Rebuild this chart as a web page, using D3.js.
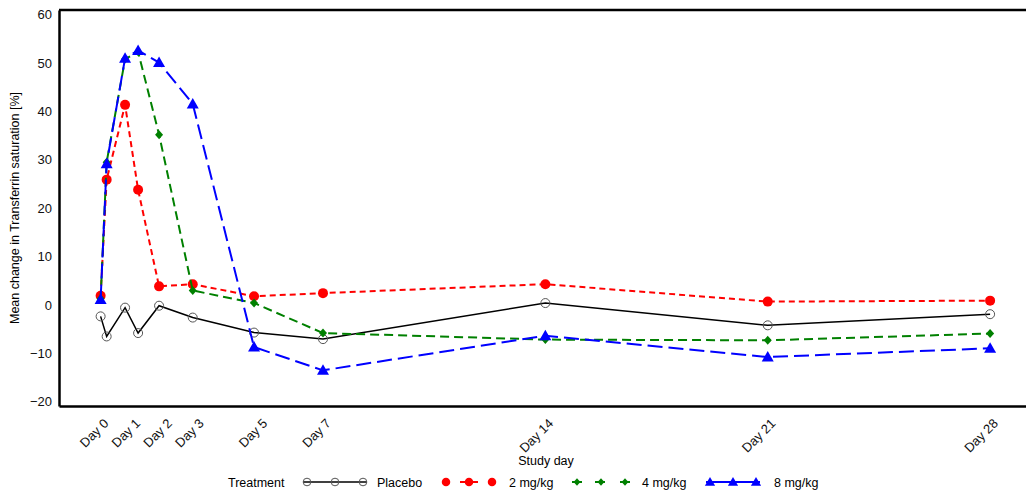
<!DOCTYPE html>
<html>
<head>
<meta charset="utf-8">
<script src="https://cdn.jsdelivr.net/npm/d3@7"></script>
<style>
  body { margin: 0; background: #fff; }
  text { font-family: "Liberation Sans", Arial, sans-serif; }
</style>
</head>
<body>
<svg id="main"></svg>
<script>
const width = 1026;
const height = 493;

// sampling times in days (actual time of visit)
const times = [0, 0.19, 0.77, 1.18, 1.84, 2.9, 4.83, 7, 14, 21, 28];
// nominal tick days + labels
const tickDays = [0, 1, 2, 3, 5, 7, 14, 21, 28];
const tickLabels = ['Day 0', 'Day 1', 'Day 2', 'Day 3', 'Day 5', 'Day 7', 'Day 14', 'Day 21', 'Day 28'];
const yTicks = [-20, -10, 0, 10, 20, 30, 40, 50, 60];

const placebo = [-2.35, -6.5, -0.55, -5.8, -0.15, -2.6, -5.7, -7.05, 0.4, -4.2, -1.9];
const mg2 = [1.9, 25.9, 41.35, 23.8, 3.85, 4.3, 1.8, 2.45, 4.3, 0.7, 0.9];
const mg4 = [1.3, 29.5, 50.8, 52.3, 35.2, 3.0, 0.4, -5.8, -7.15, -7.3, -5.9];
const mg8 = [1.15, 29.2, 51.0, 52.6, 50.1, 41.55, -8.7, -13.5, -6.35, -10.75, -8.95];

const groups = [
    { name: 'Placebo', values: placebo, color: '#000', dash: null, width: 1.5, symbol: 'open' },
    { name: '2 mg/kg', values: mg2, color: '#ff0000', dash: '6,4', width: 2, symbol: 'circle' },
    { name: '4 mg/kg', values: mg4, color: '#008000', dash: '9,5', width: 2, symbol: 'diamond' },
    { name: '8 mg/kg', values: mg8, color: '#0000ff', dash: '15,6', width: 2, symbol: 'triangle' }
];

const plot = { left: 59, top: 10, right: 1026, bottom: 406 };

const svg = d3.select('#main').attr('width', width).attr('height', height);

const xScale = d3.scaleLinear().domain([-1.31, 29.13]).range([plot.left, plot.right]);
const yScale = d3.scaleLinear().domain([-20.87, 60.95]).range([plot.bottom, plot.top]);

// frame: top line, left axis, bottom axis
svg.append('line')
    .attr('x1', plot.left).attr('x2', plot.right)
    .attr('y1', plot.top).attr('y2', plot.top)
    .attr('stroke', '#000').attr('stroke-width', 2.5);

const yAxis = d3.axisLeft(yScale).tickValues(yTicks).tickSize(0).tickPadding(7);
const yG = svg.append('g').attr('transform', `translate(${plot.left},0)`).call(yAxis);
yG.select('.domain').attr('stroke', '#000').attr('stroke-width', 2.5);
yG.selectAll('text').attr('font-size', 13).attr('fill', '#111')
    .style('font-family', '"Liberation Sans", Arial, sans-serif');

const xAxis = d3.axisBottom(xScale).tickValues(tickDays).tickSize(0)
    .tickFormat((d, i) => tickLabels[i]);
const xG = svg.append('g').attr('transform', `translate(0,${plot.bottom})`).call(xAxis);
xG.select('.domain').attr('stroke', '#000').attr('stroke-width', 2.5);
xG.selectAll('text')
    .attr('font-size', 13).attr('fill', '#111')
    .style('font-family', '"Liberation Sans", Arial, sans-serif')
    .attr('text-anchor', 'end')
    .attr('dy', '0.35em')
    .attr('transform', 'translate(5,15) rotate(-45)')
    .attr('x', 0).attr('y', 0);

// axis titles
svg.append('text')
    .attr('x', 546).attr('y', 465)
    .attr('text-anchor', 'middle').attr('font-size', 12.5)
    .text('Study day');
svg.append('text')
    .attr('transform', 'translate(19,208) rotate(-90)')
    .attr('text-anchor', 'middle').attr('font-size', 12.5)
    .text('Mean change in Transferrin saturation [%]');

// markers
function drawMarker(sel, g, x, y, s = 1) {
    if (g.symbol === 'open') {
        sel.append('circle').attr('cx', x).attr('cy', y).attr('r', 4.5 * s)
            .attr('fill', 'none').attr('stroke', '#555').attr('stroke-width', 1);
    } else if (g.symbol === 'circle') {
        sel.append('circle').attr('cx', x).attr('cy', y).attr('r', 5 * s).attr('fill', g.color);
    } else if (g.symbol === 'diamond') {
        sel.append('path').attr('d', `M${x},${y - 4.5 * s}L${x + 4 * s},${y}L${x},${y + 4.5 * s}L${x - 4 * s},${y}Z`)
            .attr('fill', g.color);
    } else {
        sel.append('path').attr('d', `M${x},${y - 6 * s}L${x + 6 * s},${y + 4.5 * s}L${x - 6 * s},${y + 4.5 * s}Z`)
            .attr('fill', g.color);
    }
}

const line = d3.line().x(d => xScale(d[0])).y(d => yScale(d[1]));

groups.forEach(g => {
    const pts = times.map((t, i) => [t, g.values[i]]);
    const gg = svg.append('g');
    gg.append('path')
        .attr('d', line(pts))
        .attr('fill', 'none')
        .attr('stroke', g.color)
        .attr('stroke-width', g.width)
        .attr('stroke-dasharray', g.dash);
    pts.forEach(p => drawMarker(gg, g, xScale(p[0]), yScale(p[1])));
});

// legend
const legY = 482;
svg.append('text').attr('x', 228).attr('y', legY + 4.5).attr('font-size', 12.5).text('Treatment');
const legendItems = [
    { g: groups[0], x0: 307, x1: 363, tx: 377, segs: [[303, 367]] },
    { g: groups[1], x0: 446, x1: 492, tx: 509, segs: [[460, 478]] },
    { g: groups[2], x0: 577, x1: 625, tx: 642, segs: [[572, 582], [595, 605], [620, 630]] },
    { g: groups[3], x0: 710, x1: 756, tx: 774, segs: [[706, 760]] }
];
legendItems.forEach(it => {
    const lg = svg.append('g');
    const mid = (it.x0 + it.x1) / 2;
    it.segs.forEach(s => {
        lg.append('line')
            .attr('x1', s[0]).attr('x2', s[1])
            .attr('y1', legY).attr('y2', legY)
            .attr('stroke', it.g.color).attr('stroke-width', it.g.width);
    });
    [it.x0, mid, it.x1].forEach(x => drawMarker(lg, it.g, x, legY, 0.85));
    lg.append('text').attr('x', it.tx).attr('y', legY + 4.5).attr('font-size', 12.5).text(it.g.name);
});
</script>
</body>
</html>
